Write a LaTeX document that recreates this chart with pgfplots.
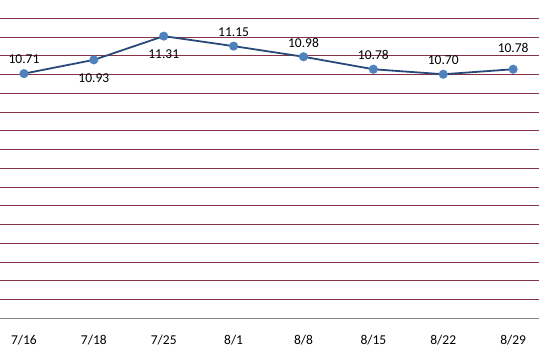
\documentclass[border=0pt]{standalone}
\usepackage{fontspec}
\setmainfont{Carlito}
\usepackage{pgfplots}
\pgfplotsset{compat=1.18}
\definecolor{gridred}{RGB}{137,52,70}
\definecolor{linecol}{RGB}{40,74,120}
\definecolor{markcol}{RGB}{79,129,189}
\definecolor{axgray}{RGB}{134,134,134}
\begin{document}
\begin{tikzpicture}
\useasboundingbox (0,0) rectangle (539pt,357pt);
\begin{axis}[
  at={(0pt,39pt)}, anchor=south west,
  scale only axis, width=539pt, height=318pt,
  xmin=-0.343, xmax=7.37,
  ymin=6.8, ymax=11.888,
  separate axis lines,
  axis x line*=bottom,
  axis y line*=left,
  x axis line style={draw=axgray, line width=1pt, -},
  y axis line style={draw=none},
  xtick={0,...,7},
  xticklabels={7/16,7/18,7/25,8/1,8/8,8/15,8/22,8/29},
  xticklabel style={font=\fontsize{13.5}{15}\selectfont, yshift=-14pt},
  yticklabels={},
  major tick length=0pt,
  ytick={7.096,7.4,7.688,7.992,8.296,8.6,8.888,9.192,9.496,9.8,10.088,10.392,10.696,11.0,11.288,11.592},
  ymajorgrids,
  major grid style={draw=gridred, line width=1pt},
  clip=false,
  nodes near coords,
  point meta=explicit symbolic,
  every node near coord/.append style={font=\fontsize{13.5}{15}\selectfont, text=black, anchor=center, yshift=14pt},
  coordinate style/.condition={x==1 || x==2}{yshift=-32pt},
  coordinate style/.condition={x==7}{yshift=7pt},
]
\addplot[draw=linecol, line width=1.8pt, mark=*, mark size=3.6pt,
  mark options={draw=markcol, fill=markcol}]
  coordinates {
  (0,10.71) [10.71]
  (1,10.93) [10.93]
  (2,11.31) [11.31]
  (3,11.15) [11.15]
  (4,10.98) [10.98]
  (5,10.78) [10.78]
  (6,10.70) [10.70]
  (7,10.78) [10.78]
  };
\end{axis}
\end{tikzpicture}
\end{document}
